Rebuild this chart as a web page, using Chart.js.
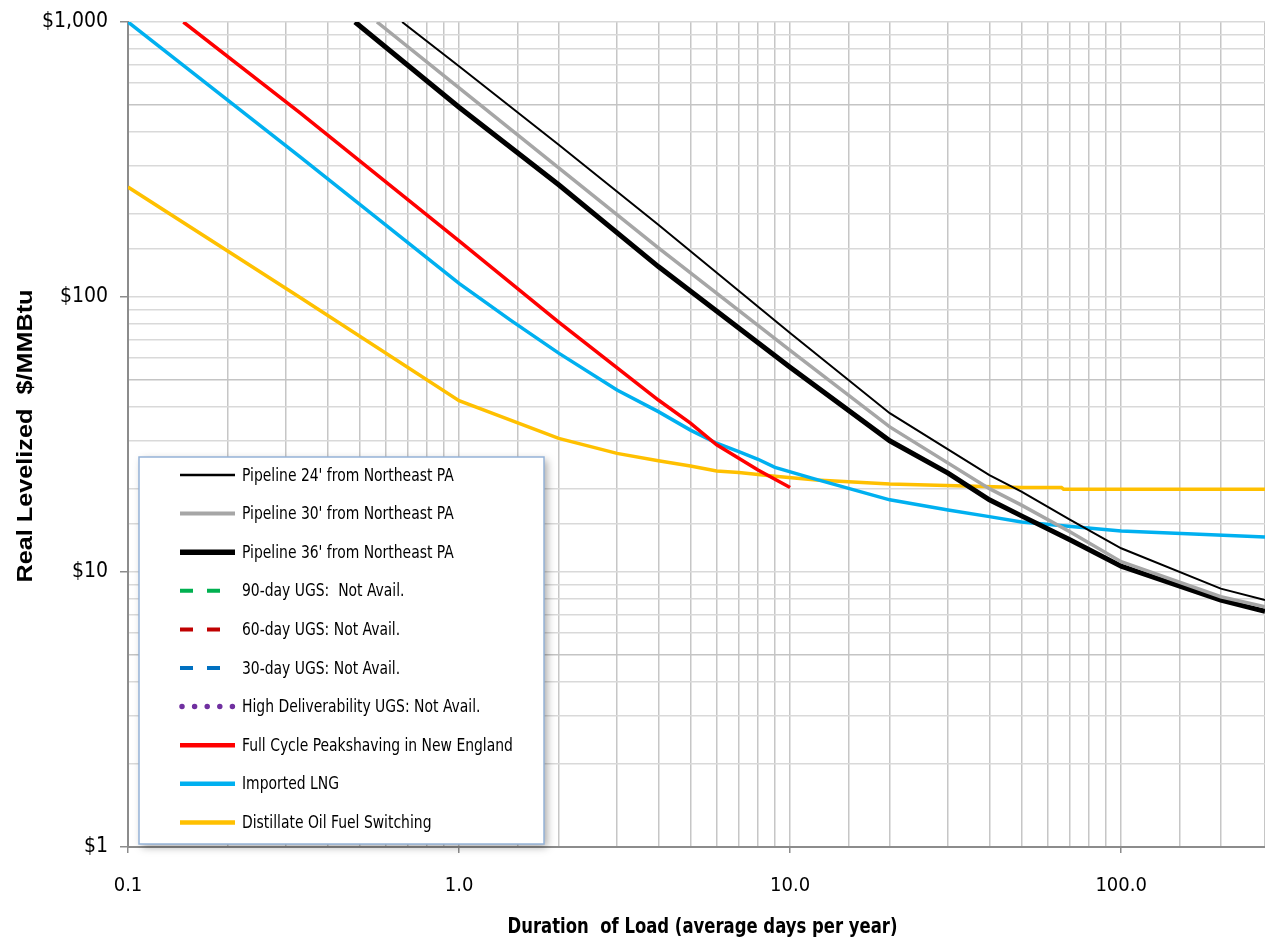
<!DOCTYPE html>
<html>
<head>
<meta charset="utf-8">
<script src="https://cdn.jsdelivr.net/npm/chart.js@4.4.1/dist/chart.umd.min.js"></script>
<style>
  html, body { margin:0; padding:0; background:#fff; overflow:hidden; }
  #wrap { position:relative; width:1265px; height:942px; }
  #wrap canvas { display:block; }
</style>
</head>
<body>
<div id="wrap"><canvas id="chartCost"></canvas></div>
<script>
// ── data (days per year → real levelized $/MMBtu) ──
const days24 = [0.673, 1, 2, 4, 10, 20, 40, 50, 70, 100, 200, 272];
const cost24 = [1000, 690, 358, 183, 74, 37.8, 22.5, 19.6, 15.5, 12.2, 8.7, 7.9];

const days30 = [0.565, 1, 2, 4, 10, 20, 40, 50, 70, 100, 200, 272];
const cost30 = [1000, 576, 295, 151, 64, 33.7, 20.1, 17.5, 14, 10.9, 8.13, 7.48];

const days36 = [0.485, 1, 2, 4, 10, 20, 30, 40, 50, 70, 100, 200, 272];
const cost36 = [1000, 490, 256, 129, 55.5, 30, 22.9, 18.3, 16, 13.1, 10.5, 7.9, 7.2];

const daysPeak = [0.147, 0.331, 1, 2, 4, 5, 6, 8, 10];
const costPeak = [1000, 467, 160, 81, 42.2, 34.8, 29, 23.5, 20.3];

const daysLng = [0.1, 0.331, 1, 1.43, 2, 3, 4, 5, 6, 7, 8, 9, 11.7, 20, 30, 40, 50, 100, 152, 272];
const costLng = [1000, 323, 112, 82.4, 62.5, 45.9, 38.3, 32.8, 29.4, 27.4, 25.7, 24, 21.9, 18.3, 16.8, 15.9, 15.2, 14.1, 13.8, 13.4];

const daysOil = [0.1, 0.331, 1, 2, 3, 4, 5, 6, 7, 9, 12, 20, 50, 66, 67, 272];
const costOil = [251, 99.6, 42, 30.6, 27, 25.4, 24.3, 23.3, 23, 22.3, 21.6, 20.9, 20.3, 20.3, 20.0, 20.0];

const xTicks = [0.1, 1, 10, 100];
const yTicks = [1, 10, 100, 1000];

const xTitle = 'Duration  of Load (average days per year)';
const yTitle = 'Real Levelized  $/MMBtu';

const pts = (xs, ys) => xs.map((x, i) => ({ x, y: ys[i] }));
const isDecade = v => Math.abs(Math.log10(v) - Math.round(Math.log10(v))) < 1e-9;

const FONT = "'Liberation Sans Narrow', 'DejaVu Sans Condensed', 'Roboto', sans-serif";

// text squeezed/stretched to a given length (the original is a non-uniformly scaled Excel chart)
function fitText(ctx, text, cx, cy, font, len, rot) {
  ctx.save();
  ctx.font = font;
  ctx.fillStyle = '#000';
  ctx.textAlign = 'center';
  ctx.textBaseline = 'middle';
  const w = ctx.measureText(text).width;
  ctx.translate(cx, cy);
  if (rot) ctx.rotate(rot);
  ctx.scale(len / w, 1);
  ctx.fillText(text, 0, 0);
  ctx.restore();
}

// ══════════════════════════════════════════════════
//  LEGEND BOX + AXIS TITLES
// ══════════════════════════════════════════════════
const boxLegend = {
  id: 'boxLegend',
  afterDraw(chart) {
    const ctx = chart.ctx;
    const area = chart.chartArea;
    const bx = 139, by = 457, bw = 405, bh = 387;
    ctx.save();
    ctx.shadowColor = 'rgba(0,0,0,0.35)';
    ctx.shadowBlur = 8;
    ctx.shadowOffsetX = 3;
    ctx.shadowOffsetY = 3;
    ctx.fillStyle = '#fff';
    ctx.fillRect(bx, by, bw, bh);
    ctx.restore();

    ctx.save();
    ctx.strokeStyle = '#95b3d7';
    ctx.lineWidth = 1.5;
    ctx.strokeRect(bx, by, bw, bh);

    ctx.textBaseline = 'middle';
    ctx.fillStyle = '#000';
    chart.data.datasets.forEach((ds, i) => {
      const y = 475 + i * 38.6;
      const dotted = ds.borderCapStyle === 'round';
      ctx.save();
      ctx.strokeStyle = ds.borderColor;
      ctx.lineWidth = ds.legendWidth || ds.borderWidth;
      ctx.lineCap = ds.borderCapStyle || 'butt';
      ctx.setLineDash(ds.legendDash || []);
      ctx.beginPath();
      ctx.moveTo(dotted ? 182 : 180, y);
      ctx.lineTo(ds.legendDash && !dotted ? 222 : 235, y);
      ctx.stroke();
      ctx.restore();

      ctx.save();
      ctx.font = '18px ' + FONT;
      ctx.translate(242, y + 1);
      ctx.scale(0.86, 1);
      ctx.fillText(ds.label, 0, 0);
      ctx.restore();
    });
    ctx.restore();

    fitText(ctx, xTitle, (area.left + area.right) / 2 + 6, 927, 'bold 22px ' + FONT, 390, 0);
    fitText(ctx, yTitle, 26, 436, "bold 22px 'Liberation Sans', Arial, sans-serif", 293, -Math.PI / 2);
  }
};

function line(label, xs, ys, color, width, extra) {
  return Object.assign({
    label,
    data: pts(xs, ys),
    borderColor: color,
    backgroundColor: color,
    borderWidth: width,
    pointRadius: 0,
    tension: 0,
    fill: false,
  }, extra || {});
}

const datasets = [
  line("Pipeline 24' from Northeast PA", days24, cost24, '#000000', 2, { legendWidth: 2.5 }),
  line("Pipeline 30' from Northeast PA", days30, cost30, '#a6a6a6', 3.5, { legendWidth: 4 }),
  line("Pipeline 36' from Northeast PA", days36, cost36, '#000000', 5, { legendWidth: 5.5 }),
  line('90-day UGS:  Not Avail.', [], [], '#00b050', 4, { legendDash: [13, 14] }),
  line('60-day UGS: Not Avail.', [], [], '#c00000', 4, { legendDash: [13, 14] }),
  line('30-day UGS: Not Avail.', [], [], '#0070c0', 4, { legendDash: [13, 14] }),
  line('High Deliverability UGS: Not Avail.', [], [], '#7030a0', 5.5, { legendDash: [0, 12.6], borderCapStyle: 'round' }),
  line('Full Cycle Peakshaving in New England', daysPeak, costPeak, '#ff0000', 3.5, { legendWidth: 4.5 }),
  line('Imported LNG', daysLng, costLng, '#00b0f0', 3.5, { legendWidth: 4.5 }),
  line('Distillate Oil Fuel Switching', daysOil, costOil, '#ffc000', 3.5, { legendWidth: 4.5 }),
];

new Chart(document.getElementById('chartCost').getContext('2d'), {
  type: 'line',
  data: { datasets },
  options: {
    responsive: true, maintainAspectRatio: false, animation: false,
    layout: { autoPadding: false, padding: { top: 22, right: 0, left: 0, bottom: 0 } },
    plugins: { legend: { display: false }, tooltip: { enabled: false } },
    scales: {
      x: {
        type: 'logarithmic', position: 'bottom', min: 0.1, max: 272,
        afterFit: s => { s.height = 95; s.paddingLeft = 0; s.paddingRight = 0; },
        border: { color: '#8c8c8c', width: 2 },
        grid: {
          color: '#c6c6c6', lineWidth: 1.5, tickLength: 6,
          tickColor: c => isDecade(c.tick.value) ? '#8c8c8c' : 'rgba(0,0,0,0)',
        },
        ticks: {
          autoSkip: false, maxRotation: 0, padding: 21, color: '#000',
          font: { family: FONT, size: 20 },
          callback: v => xTicks.some(t => Math.abs(t - v) < 1e-9) ? v.toFixed(1) : '',
        },
      },
      y: {
        type: 'logarithmic', min: 1, max: 1000,
        afterFit: s => { s.width = 128; s.paddingTop = 0; s.paddingBottom = 0; },
        border: { color: '#8c8c8c', width: 2 },
        grid: {
          color: c => (c.tick && /^5/.test(String(c.tick.value))) ? '#c4c4c4' : '#d9d9d9',
          lineWidth: 1.5, tickLength: 8,
          tickColor: c => isDecade(c.tick.value) ? '#8c8c8c' : 'rgba(0,0,0,0)',
        },
        ticks: {
          autoSkip: false, padding: 12, color: '#000',
          font: { family: FONT, size: 21 },
          callback: v => yTicks.some(t => Math.abs(t - v) < 1e-9) ? '$' + v.toLocaleString('en-US') : '',
        },
      },
    },
  },
  plugins: [boxLegend],
});
</script>
</body>
</html>
